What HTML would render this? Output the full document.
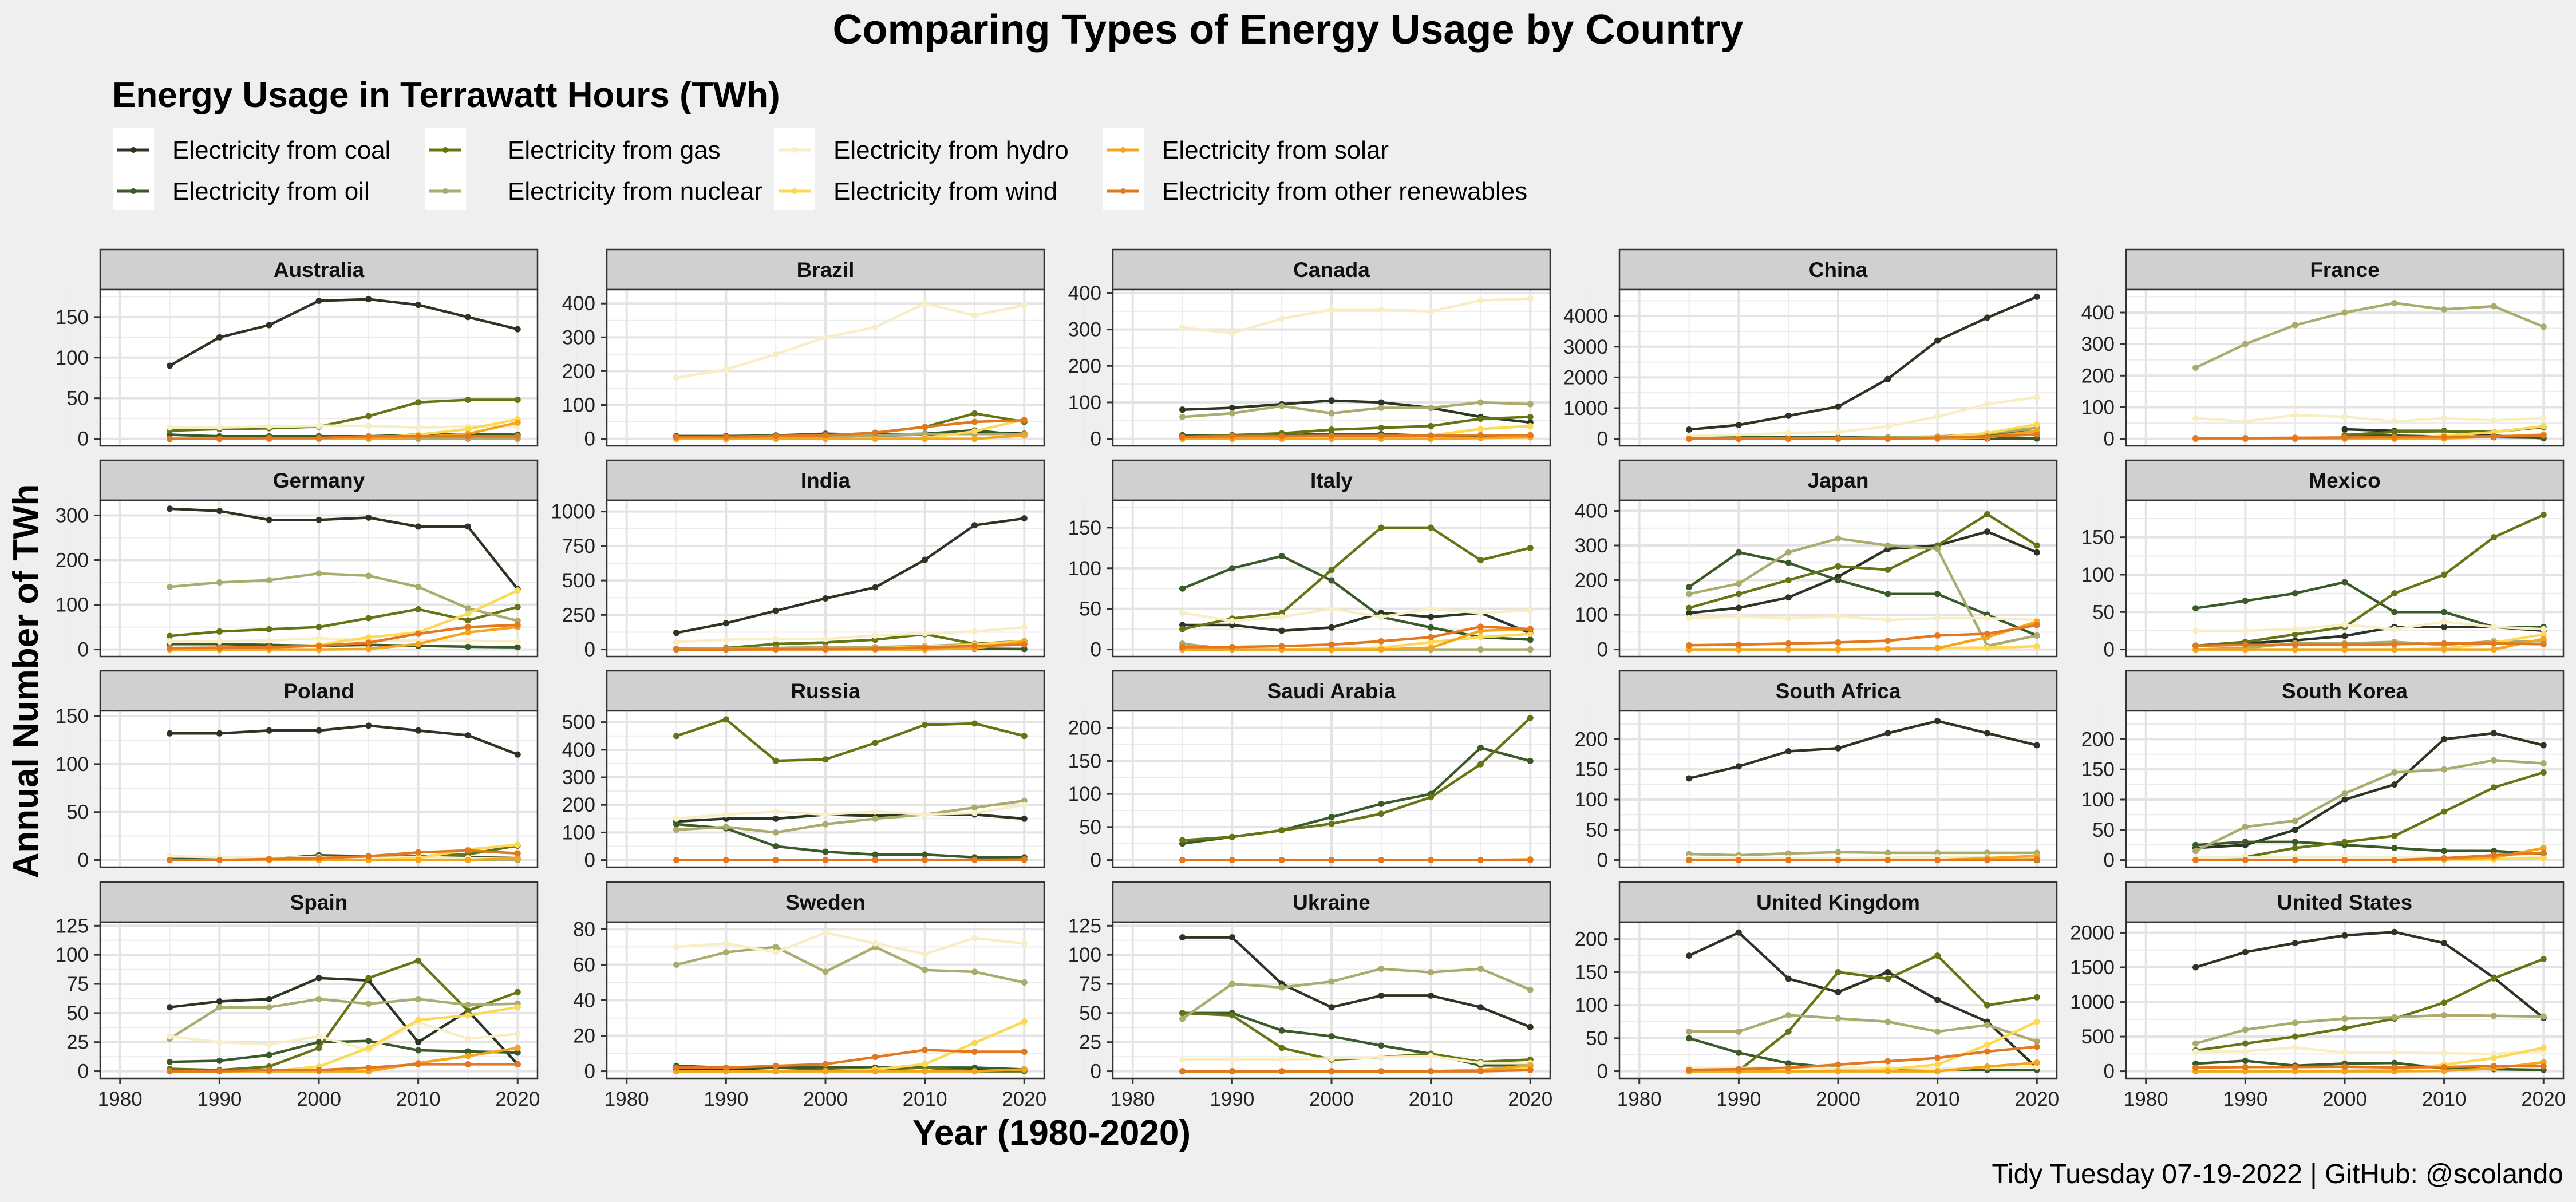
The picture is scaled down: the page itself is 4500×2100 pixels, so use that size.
<!DOCTYPE html>
<html><head><meta charset="utf-8">
<style>
html,body{margin:0;padding:0;background:#efefef;}
svg{display:block;font-family:"Liberation Sans",Arial,sans-serif;}
</style></head>
<body>
<svg id="chart" width="4500" height="2100" viewBox="0 0 4500 2100" xmlns="http://www.w3.org/2000/svg">
<rect x="0" y="0" width="4500" height="2100" fill="#efefef"/>
<text x="2250" y="76" text-anchor="middle" font-size="72" font-weight="bold" fill="#000">Comparing Types of Energy Usage by Country</text>
<text x="196" y="187" font-size="62" font-weight="bold" fill="#000">Energy Usage in Terrawatt Hours (TWh)</text>
<g id="legend"></g>
<g id="panels"></g>
<text transform="translate(66,1190) rotate(-90)" text-anchor="middle" font-size="62" font-weight="bold" fill="#000">Annual Number of TWh</text>
<text x="1837" y="2000" text-anchor="middle" font-size="62" font-weight="bold" fill="#000">Year (1980-2020)</text>
<text x="4478" y="2067" text-anchor="end" font-size="48" fill="#000">Tidy Tuesday 07-19-2022 | GitHub: @scolando</text>
</svg>
<script>
const years = [1985,1990,1995,2000,2005,2010,2015,2020];
const seriesNames = ["Electricity from coal","Electricity from oil","Electricity from gas","Electricity from nuclear","Electricity from hydro","Electricity from wind","Electricity from solar","Electricity from other renewables"];
const seriesKeys = ["coal","oil","gas","nuclear","hydro","wind","solar","other"];
const seriesColors = ["#2c3424","#3a5a2a","#657514","#aaab6d","#f7eec6","#fcd955","#f4a51c","#e2781f"];
const xTicks = [1980,1990,2000,2010,2020];
const countries = ["Australia","Brazil","Canada","China","France","Germany","India","Italy","Japan","Mexico","Poland","Russia","Saudi Arabia","South Africa","South Korea","Spain","Sweden","Ukraine","United Kingdom","United States"];
const yTicks = {
"Australia":[0,50,100,150],"Brazil":[0,100,200,300,400],"Canada":[0,100,200,300,400],"China":[0,1000,2000,3000,4000],"France":[0,100,200,300,400],
"Germany":[0,100,200,300],"India":[0,250,500,750,1000],"Italy":[0,50,100,150],"Japan":[0,100,200,300,400],"Mexico":[0,50,100,150],
"Poland":[0,50,100,150],"Russia":[0,100,200,300,400,500],"Saudi Arabia":[0,50,100,150,200],"South Africa":[0,50,100,150,200],"South Korea":[0,50,100,150,200],
"Spain":[0,25,50,75,100,125],"Sweden":[0,20,40,60,80],"Ukraine":[0,25,50,75,100,125],"United Kingdom":[0,50,100,150,200],"United States":[0,500,1000,1500,2000]};
const yPeak = {"Australia":175,"Brazil":420,"Canada":390,"China":4630,"France":450,"Germany":318,"India":1030,"Italy":175,"Japan":410,"Mexico":190,"Poland":148,"Russia":515,"Saudi Arabia":215,"South Africa":235,"South Korea":235,"Spain":122,"Sweden":80,"Ukraine":122,"United Kingdom":215,"United States":2050};

const coal = {
"Australia":[90,125,140,170,172,165,150,135],"Brazil":[5,5,8,10,10,12,20,15],"Canada":[80,85,95,105,100,85,60,45],"China":[300,450,750,1050,1950,3200,3950,4630],
"France":[null,null,null,30,25,25,10,2],"Germany":[315,310,290,290,295,275,275,135],"India":[120,190,280,370,450,650,900,950],"Italy":[30,30,23,27,45,40,45,20],
"Japan":[105,120,150,210,290,300,340,280],"Mexico":[5,8,12,18,30,30,30,25],"Poland":[132,132,135,135,140,135,130,110],"Russia":[140,150,150,165,160,165,165,150],
"Saudi Arabia":[null,null,null,null,null,null,null,null],"South Africa":[135,155,180,185,210,230,210,190],"South Korea":[20,25,50,100,125,200,210,190],"Spain":[55,60,62,80,78,25,52,6],
"Sweden":[1,1,2,2,2,2,1,1],"Ukraine":[115,115,75,55,65,65,55,38],"United Kingdom":[175,210,140,120,150,108,75,5],"United States":[1500,1720,1850,1960,2010,1850,1350,770]};
const oil = {
"Australia":[5,3,3,3,3,5,6,5],"Brazil":[8,8,10,15,12,15,25,10],"Canada":[10,10,10,13,13,8,8,7],"China":[40,45,50,45,50,15,10,10],
"France":[null,null,null,10,10,7,5,3],"Germany":[12,12,10,8,10,8,6,5],"India":[5,8,10,15,10,12,5,3],"Italy":[75,100,115,85,40,27,15,12],
"Japan":[180,280,250,200,160,160,100,40],"Mexico":[55,65,75,90,50,50,30,30],"Poland":[1,1,1,5,4,3,3,2],"Russia":[130,115,50,30,20,20,10,10],
"Saudi Arabia":[25,35,45,65,85,100,170,150],"South Africa":[0,0,0,0,0,0,0,0],"South Korea":[25,30,30,25,20,15,15,10],"Spain":[8,9,14,25,26,18,17,16],
"Sweden":[3,2,2,2,2,2,2,1],"Ukraine":[50,50,35,30,22,15,5,5],"United Kingdom":[50,28,12,5,4,3,2,2],"United States":[110,150,80,110,120,40,30,20]};
const gas = {
"Australia":[10,12,13,15,28,45,48,48],"Brazil":[0,0,0,5,18,35,75,50],"Canada":[5,10,15,25,30,35,55,60],"China":[0,0,5,10,15,60,140,250],
"France":[null,null,null,12,22,24,22,37],"Germany":[30,40,45,50,70,90,65,95],"India":[2,10,40,50,70,110,40,60],"Italy":[25,38,45,98,150,150,110,125],
"Japan":[120,160,200,240,230,300,390,300],"Mexico":[5,10,20,30,75,100,150,180],"Poland":[0,0,0,1,3,4,6,15],"Russia":[450,510,360,365,425,490,495,450],
"Saudi Arabia":[30,35,45,55,70,95,145,215],"South Africa":[0,0,0,0,0,0,0,0],"South Korea":[0,5,20,30,40,80,120,145],"Spain":[2,1,4,20,80,95,52,68],
"Sweden":[0,0,0,1,1,2,0,0],"Ukraine":[50,48,20,10,12,15,8,10],"United Kingdom":[0,1,60,150,140,175,100,112],"United States":[300,400,500,620,760,990,1340,1620]};
const nuclear = {
"Australia":[0,0,0,0,0,0,0,0],"Brazil":[0,2,3,5,10,14,14,14],"Canada":[60,70,90,70,85,85,100,95],"China":[0,0,12,17,50,75,170,360],
"France":[225,300,360,400,430,410,420,355],"Germany":[140,150,155,170,165,140,92,64],"India":[5,6,7,16,17,25,38,43],"Italy":[7,0,0,0,0,0,0,0],
"Japan":[160,190,280,320,300,290,10,40],"Mexico":[0,2,8,8,10,6,11,11],"Poland":[0,0,0,0,0,0,0,0],"Russia":[110,120,100,130,150,165,190,215],
"Saudi Arabia":[0,0,0,0,0,0,0,0],"South Africa":[10,8,11,13,12,12,12,12],"South Korea":[15,55,65,110,145,150,165,160],"Spain":[28,55,55,62,58,62,57,58],
"Sweden":[60,67,70,56,70,57,56,50],"Ukraine":[45,75,72,77,88,85,88,70],"United Kingdom":[60,60,85,80,75,60,70,45],"United States":[400,600,700,760,780,810,800,790]};
const hydro = {
"Australia":[14,14,15,16,16,14,15,15],"Brazil":[180,205,250,300,330,400,365,395],"Canada":[305,290,330,355,355,350,380,385],"China":[95,125,190,220,400,720,1130,1360],
"France":[65,55,75,70,55,65,58,65],"Germany":[18,18,20,25,20,20,19,18],"India":[55,70,75,75,100,115,130,160],"Italy":[45,35,40,50,40,50,45,48],
"Japan":[90,95,90,95,85,90,90,85],"Mexico":[25,25,27,33,27,37,30,27],"Poland":[4,3,2,3,2,3,2,2],"Russia":[150,165,175,165,175,165,170,200],
"Saudi Arabia":[0,0,0,0,0,0,0,0],"South Africa":[3,3,3,3,4,5,5,5],"South Korea":[4,5,5,5,4,4,3,4],"Spain":[30,25,23,30,18,42,28,32],
"Sweden":[70,72,67,78,72,66,75,72],"Ukraine":[10,10,10,11,12,13,7,7],"United Kingdom":[5,5,5,5,5,4,6,7],"United States":[280,290,340,270,270,260,250,290]};
const wind = {
"Australia":[0,0,0,0,1,5,12,24],"Brazil":[0,0,0,0,0,2,22,57],"Canada":[0,0,0,0,2,9,27,35],"China":[0,0,0,1,2,45,185,470],
"France":[0,0,0,0,1,10,21,40],"Germany":[0,0,2,10,27,38,80,132],"India":[0,0,1,2,7,20,35,60],"Italy":[0,0,0,1,2,9,15,19],
"Japan":[0,0,0,0,2,4,5,9],"Mexico":[0,0,0,0,0,1,9,20],"Poland":[0,0,0,0,0,2,11,16],"Russia":[0,0,0,0,0,0,0,1],
"Saudi Arabia":[0,0,0,0,0,0,0,0],"South Africa":[0,0,0,0,0,0,2,7],"South Korea":[0,0,0,0,0,1,1,3],"Spain":[0,0,0,4,20,44,48,55],
"Sweden":[0,0,0,0,1,4,16,28],"Ukraine":[0,0,0,0,0,0,1,3],"United Kingdom":[0,0,0,1,3,10,40,75],"United States":[0,3,3,6,18,95,190,340]};
const solar = {
"Australia":[0,0,0,0,0,2,6,20],"Brazil":[0,0,0,0,0,0,0,10],"Canada":[0,0,0,0,0,0,2,4],"China":[0,0,0,0,0,1,40,260],
"France":[0,0,0,0,0,1,7,13],"Germany":[0,0,0,0,1,12,38,50],"India":[0,0,0,0,0,0,8,58],"Italy":[0,0,0,0,0,2,23,25],
"Japan":[0,0,0,0,1,4,35,80],"Mexico":[0,0,0,0,0,0,0,14],"Poland":[0,0,0,0,0,0,0,2],"Russia":[0,0,0,0,0,0,0,2],
"Saudi Arabia":[0,0,0,0,0,0,0,1],"South Africa":[0,0,0,0,0,0,3,7],"South Korea":[0,0,0,0,0,1,4,20],"Spain":[0,0,0,0,0,7,13,20],
"Sweden":[0,0,0,0,0,0,0,1],"Ukraine":[0,0,0,0,0,0,1,5],"United Kingdom":[0,0,0,0,0,0,7,13],"United States":[0,0,0,0,0,5,40,130]};
const other = {
"Australia":[0,0,1,1,3,3,3,3],"Brazil":[5,6,8,10,18,35,50,55],"Canada":[5,7,7,8,8,9,10,10],"China":[0,0,1,2,5,35,75,140],
"France":[2,2,3,4,5,6,8,10],"Germany":[3,4,5,8,15,35,50,55],"India":[0,0,1,2,5,15,25,35],"Italy":[3,3,4,6,10,15,28,25],
"Japan":[12,14,17,20,25,40,45,70],"Mexico":[5,6,6,6,7,8,8,7],"Poland":[0,0,1,2,4,8,10,7],"Russia":[0,0,0,0,1,1,1,1],
"Saudi Arabia":[0,0,0,0,0,0,0,0],"South Africa":[0,0,0,0,0,0,0,1],"South Korea":[0,0,0,0,0,3,8,12],"Spain":[0,0,1,1,3,6,6,6],
"Sweden":[2,2,3,4,8,12,11,11],"Ukraine":[0,0,0,0,0,0,0,1],"United Kingdom":[2,3,5,10,15,20,30,37],"United States":[50,60,60,65,55,60,75,70]};
const seriesData = [coal,oil,gas,nuclear,hydro,wind,solar,other];

const NS = "http://www.w3.org/2000/svg";
function mk(tag, attrs, parent){const e=document.createElementNS(NS,tag);for(const k in attrs)e.setAttribute(k,attrs[k]);parent.appendChild(e);return e;}

// Legend
const legend = document.getElementById('legend');
const legCols = [197,742,1352,1926];
const legText = [301,887,1456,2030];
const legRows = [262,334];
for(let c=0;c<4;c++){
  const bg = mk('rect',{x:legCols[c],y:223,width:72,height:144,fill:'#ffffff'},legend);
  
  
}
seriesNames.forEach((n,i)=>{
  const c=Math.floor(i/2), r=i%2;
  const g = mk('g',{},legend);
  
  
  const cx = legCols[c]+36, cy = legRows[r];
  mk('line',{x1:cx-28,y1:cy,x2:cx+28,y2:cy,stroke:seriesColors[i],'stroke-width':5},g);
  mk('circle',{cx:cx,cy:cy,r:5,fill:seriesColors[i]},g);
  const t = mk('text',{x:legText[c],y:cy+15,'font-size':44,fill:'#000'},g);
  t.textContent = n;
});

// Panels
const panels = document.getElementById('panels');
const colLeft = [175,1060,1944,2829,3714];
const rowTop = [436,804,1172,1541];
const PW = 764, SH = 70, PH = 273;
const xMin = 1978, xMax = 2022;
countries.forEach((name,idx)=>{
  const col = idx%5, row = Math.floor(idx/5);
  const L = colLeft[col], T = rowTop[row];
  const pT = T+SH, pB = pT+PH;
  const g = mk('g',{},panels);
  
  
  const xs = v => L + (v-xMin)/(xMax-xMin)*PW;
  let dmax = yPeak[name];
  seriesData.forEach(s=>s[name].forEach(v=>{if(v!==null&&v>dmax)dmax=v;}));
  const lo = -0.05*dmax, hi = 1.05*dmax;
  const ys = v => pB - (v-lo)/(hi-lo)*PH;
  const st = mk('rect',{x:L,y:T,width:PW,height:SH,fill:'#d0d0d0',stroke:'#333','stroke-width':2.5},g);
  
  
  const stt = mk('text',{x:L+PW/2,y:T+SH/2+13,'text-anchor':'middle','font-size':37,'font-weight':'bold',fill:'#111'},g);
  
  
  stt.textContent = name;
  const bg = mk('rect',{x:L,y:pT,width:PW,height:PH,fill:'#fff'},g);
  
  
  const yt = yTicks[name];
  const step = yt[1]-yt[0];
  for(let k=0;k<xTicks.length;k++){const m=xTicks[k]+5; if(m<xMax) mk('line',{x1:xs(m),x2:xs(m),y1:pT,y2:pB,stroke:'#ececec','stroke-width':2},g);}
  mk('line',{x1:xs(1975),x2:xs(1975),y1:pT,y2:pB,stroke:'#ececec','stroke-width':2},g);
  for(let v=yt[0]-step/2; v<hi+step; v+=step){ if(v>lo && v<hi) mk('line',{x1:L,x2:L+PW,y1:ys(v),y2:ys(v),stroke:'#ececec','stroke-width':2},g);}
  xTicks.forEach(t=>mk('line',{x1:xs(t),x2:xs(t),y1:pT,y2:pB,stroke:'#e4e4e4','stroke-width':4},g));
  yt.forEach(t=>{
    mk('line',{x1:L,x2:L+PW,y1:ys(t),y2:ys(t),stroke:'#e4e4e4','stroke-width':4},g);
    mk('line',{x1:L-10,x2:L,y1:ys(t),y2:ys(t),stroke:'#333','stroke-width':3},g);
    const tl = mk('text',{x:L-20,y:ys(t)+12,'text-anchor':'end','font-size':35,fill:'#222'},g);
    
    
    tl.textContent = t;
  });
  seriesData.forEach((s,si)=>{
    const vals = s[name];
    const sg = mk('g',{},g);
    
    
    let d='', pen=false;
    vals.forEach((v,i)=>{
      if(v===null){pen=false;return;}
      d += (pen?'L':'M')+xs(years[i]).toFixed(1)+','+ys(v).toFixed(1);
      pen=true;
    });
    if(d) mk('path',{d:d,fill:'none',stroke:seriesColors[si],'stroke-width':4.5,'stroke-linejoin':'round'},sg);
    vals.forEach((v,i)=>{ if(v!==null){
      const p = mk('circle',{cx:xs(years[i]),cy:ys(v),r:5.5,fill:seriesColors[si]},sg);
      
      
    }});
  });
  mk('rect',{x:L,y:pT,width:PW,height:PH,fill:'none',stroke:'#333','stroke-width':2.5},g);
  if(row===3){
    xTicks.forEach(t=>{
      mk('line',{x1:xs(t),x2:xs(t),y1:pB,y2:pB+10,stroke:'#333','stroke-width':3},g);
      const xl = mk('text',{x:xs(t),y:pB+48,'text-anchor':'middle','font-size':35,fill:'#222'},g);
      
      
      xl.textContent = t;
    });
  }
});
</script>
</body></html>
